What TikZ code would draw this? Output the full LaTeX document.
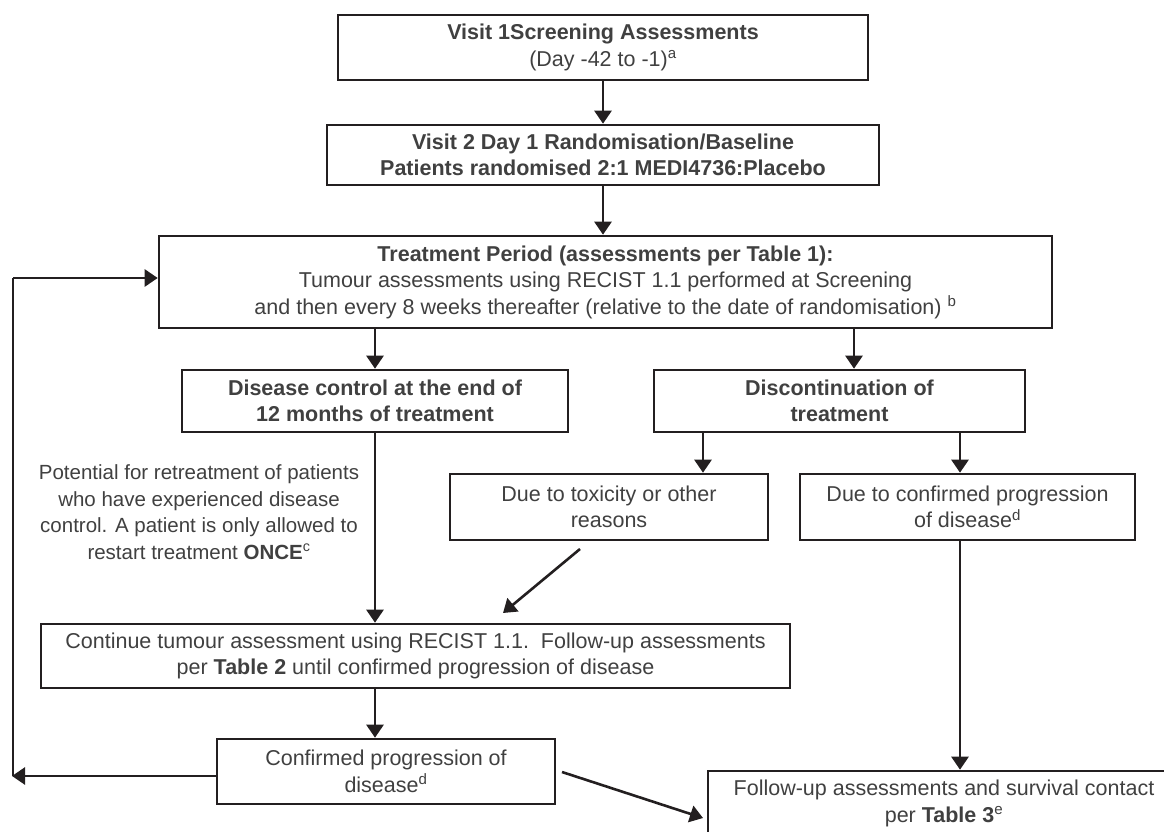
\documentclass[tikz,border=0pt]{standalone}
\usepackage{fontspec}
\setmainfont{Liberation Sans}
\usetikzlibrary{arrows.meta,calc}
\definecolor{txt}{RGB}{64,64,64}
\definecolor{ln}{RGB}{35,31,32}
\begin{document}
\begin{tikzpicture}[x=1pt,y=-1pt,
  box/.style={draw=ln,line width=2.6pt,rectangle,inner sep=0pt,align=center,text=txt,
    font=\fontsize{21.5}{26.5}\selectfont},
  arr/.style={draw=ln,line width=2.6pt,-{Triangle[length=13pt,width=17pt]}},
  ln/.style={draw=ln,line width=2.6pt},
  note/.style={align=center,text=txt,inner sep=0pt,font=\fontsize{20.5}{26.5}\selectfont}]
\useasboundingbox (0,0) rectangle (1164,832);
\node[box,minimum width=530pt,minimum height=65pt] (b1) at (603,47.5)
  {\textbf{Visit 1Screening Assessments}\\(Day -42 to -1)\textsuperscript{a}};
\node[box,minimum width=552pt,minimum height=60pt] (b2) at (603,155)
  {\textbf{Visit 2 Day 1 Randomisation/Baseline}\\\textbf{Patients randomised 2:1 MEDI4736:Placebo}};
\node[box,minimum width=893pt,minimum height=92pt] (b3) at (605.5,282)
  {\textbf{Treatment Period (assessments per Table 1):}\\Tumour assessments using RECIST 1.1 performed at Screening\\and then every 8 weeks thereafter (relative to the date of randomisation) \textsuperscript{b}};
\node[box,minimum width=386pt,minimum height=62pt] (b4) at (375,401)
  {\textbf{Disease control at the end of}\\\textbf{12 months of treatment}};
\node[box,minimum width=371pt,minimum height=62pt] (b5) at (839.5,401)
  {\textbf{Discontinuation of}\\\textbf{treatment}};
\node[box,minimum width=318pt,minimum height=66pt] (b6) at (609,507)
  {Due to toxicity or other\\reasons};
\node[box,minimum width=335pt,minimum height=66pt] (b7) at (967.5,507)
  {Due to confirmed progression\\of disease\textsuperscript{d}};
\node[box,minimum width=749pt,minimum height=64pt] (b8) at (415.5,656)
  {Continue tumour assessment using RECIST 1.1.\ \ Follow-up assessments\\per \textbf{Table 2} until confirmed progression of disease};
\node[box,minimum width=338pt,minimum height=65pt] (b9) at (386,771.5)
  {Confirmed progression of\\disease\textsuperscript{d}};
\node[box,minimum width=472pt,minimum height=65pt] (b10) at (944,803.5)
  {Follow-up assessments and survival contact\\per \textbf{Table 3}\textsuperscript{e}};
\node[note] (n1) at (199,512)
  {Potential for retreatment of patients\\who have experienced disease\\control. A patient is only allowed to\\restart treatment \textbf{ONCE}\textsuperscript{c}};
% helper coordinates
\coordinate (c375) at (375,0);
\coordinate (a5) at (854,0);
\coordinate (a6) at (703,0);
\coordinate (a7) at (960,0);
\coordinate (d1) at (580,549);
\coordinate (d2) at (503,613);
\coordinate (e1) at (562,772);
\coordinate (e2) at (703,818);
\coordinate (lb) at (12,776);
\coordinate (lt) at (13,278);
% connectors
\draw[arr] (b1.south) -- (b2.north);
\draw[arr] (b2.south) -- (b2.south |- b3.north);
\draw[arr] (b4.north |- b3.south) -- (b4.north);
\draw[arr] (a5 |- b3.south) -- (a5 |- b5.north);
\draw[arr] (a6 |- b5.south) -- (a6 |- b6.north);
\draw[arr] (a7 |- b5.south) -- (a7 |- b7.north);
\draw[arr] (a7 |- b7.south) -- (a7 |- b10.north);
\draw[arr] (b4.south) -- (b4.south |- b8.north);
\draw[arr] (d1) -- (d2);
\draw[arr] (c375 |- b8.south) -- (c375 |- b9.north);
\draw[arr] (b9.west |- lb) -- (lb);
\draw[ln] ([yshift=0pt]lb -| lt) -- (lt);
\draw[arr] (lt) -- (lt -| b3.west);
\draw[arr] (e1) -- (e2);
\end{tikzpicture}
\end{document}
